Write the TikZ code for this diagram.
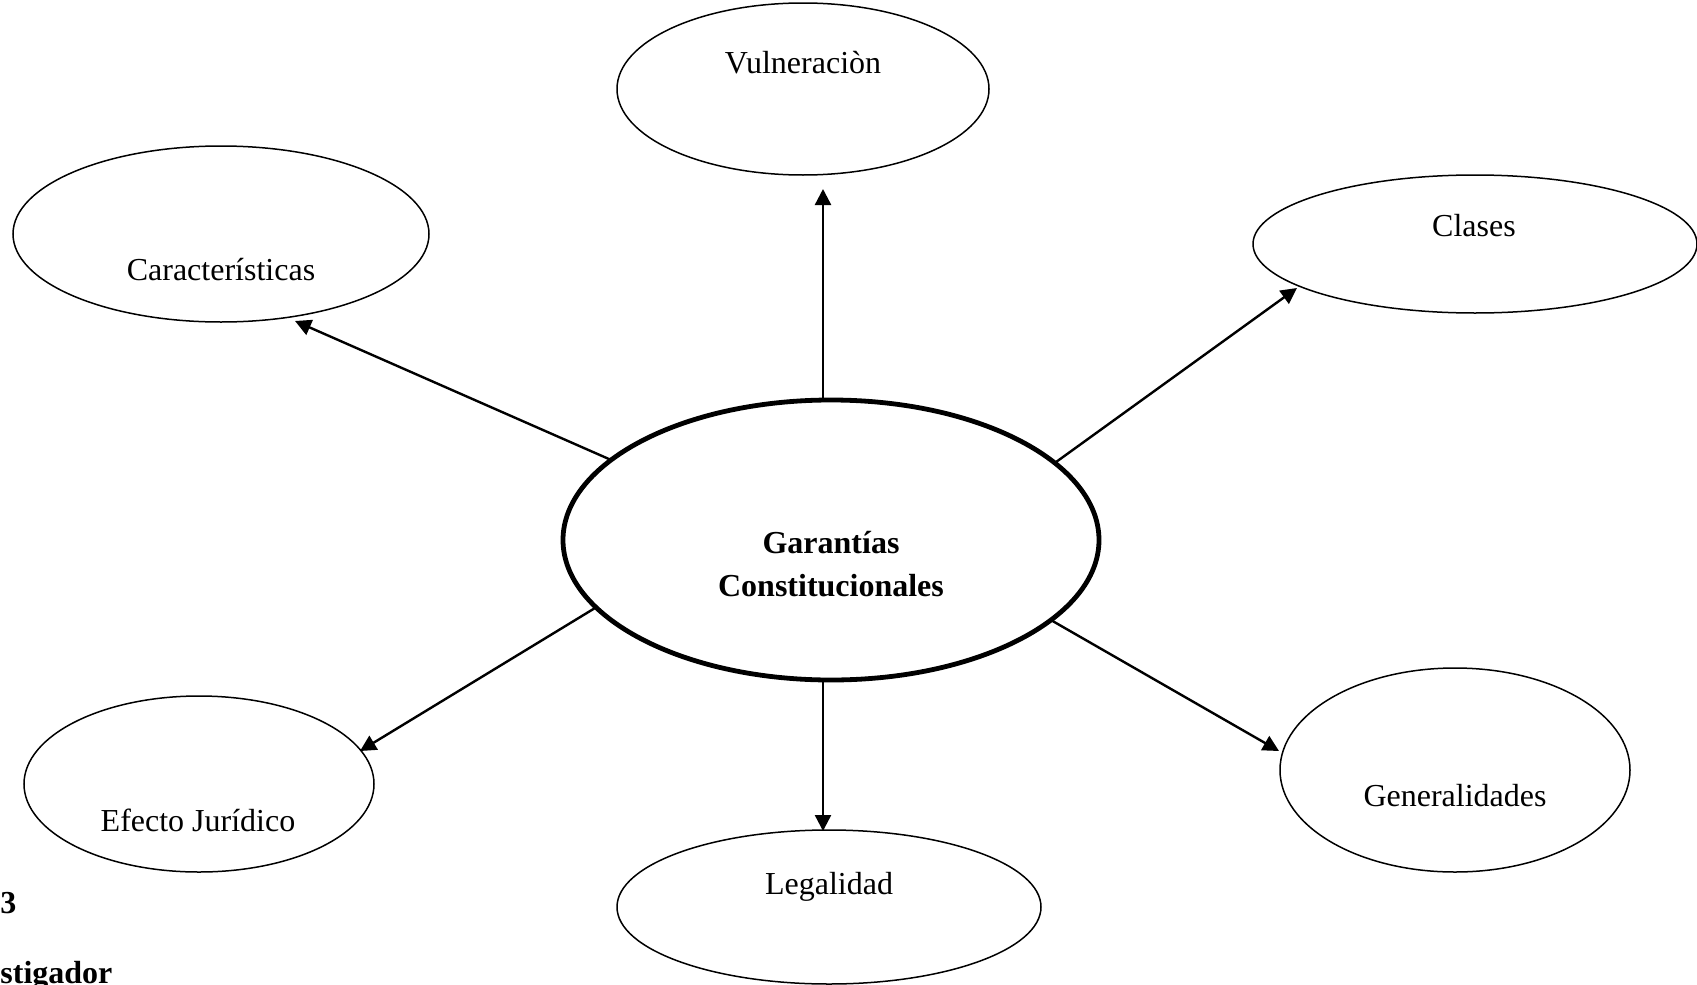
\documentclass[tikz,border=0pt]{standalone}
\usepackage{fontspec}
\setmainfont{Liberation Serif}
\usetikzlibrary{shapes.geometric,arrows.meta}
\tikzset{
  bub/.style={draw=black, line width=0.75pt, ellipse, inner sep=0pt, outer sep=0pt},
  mainbub/.style={draw=black, line width=2.4pt, ellipse, inner sep=0pt, outer sep=0pt},
  txt/.style={font=\fontsize{16pt}{19pt}\selectfont, inner sep=0pt},
  btxt/.style={font=\fontsize{16pt}{21.5pt}\selectfont\bfseries, inner sep=0pt, align=center},
  arr/.style={line width=1.2pt, -{Triangle[length=8pt,width=8pt]}}
}
\begin{document}
\begin{tikzpicture}[x=0.5pt,y=-0.5pt]
\useasboundingbox (0,0) rectangle (1697,985);
% central
\node[mainbub, minimum width=268pt, minimum height=140pt] (g) at (831,540) {};
\node[btxt] (gt) at (831,564) {Garantías\\Constitucionales};
% outer ellipses
\node[bub, minimum width=186pt, minimum height=86pt] (vul) at (803,89) {};
\node[txt] (vult) at (803,63) {Vulneraciòn};
\node[bub, minimum width=208pt, minimum height=88pt] (car) at (221,234) {};
\node[txt] (cart) at (221,270) {Características};
\node[bub, minimum width=222pt, minimum height=69pt] (cla) at (1475,244) {};
\node[txt] (clat) at (1474,226) {Clases};
\node[bub, minimum width=175pt, minimum height=88pt] (efe) at (199,784) {};
\node[txt] (efet) at (198,820) {Efecto Jurídico};
\node[bub, minimum width=212pt, minimum height=77pt] (leg) at (829,907) {};
\node[txt] (legt) at (829,887) {Legalidad};
\node[bub, minimum width=175pt, minimum height=102pt] (gen) at (1455,770) {};
\node[txt] (gent) at (1455,796) {Generalidades};
% arrow tips
\coordinate (tcar) at (295,321);
\coordinate (tvul) at (823,189);
\coordinate (tcla) at (1297,288);
\coordinate (tefe) at (360,751);
\coordinate (tleg) at (823,831);
\coordinate (tgen) at (1279,751);
\draw[arr] (g.160.7) -- (tcar);
\draw[arr] (tvul |- g.north) -- (tvul);
\draw[arr] (g.19.4) -- (tcla);
\draw[arr] (g.196.9) -- (tefe);
\draw[arr] (tleg |- g.south) -- (tleg);
\draw[arr] (g.340.1) -- (tgen);
% partial caption text at bottom left
\node[btxt, anchor=west] (cap1) at (0,903) {3};
\node[btxt, anchor=base west] (cap2) at (0,983) {stigador};
\end{tikzpicture}
\end{document}
